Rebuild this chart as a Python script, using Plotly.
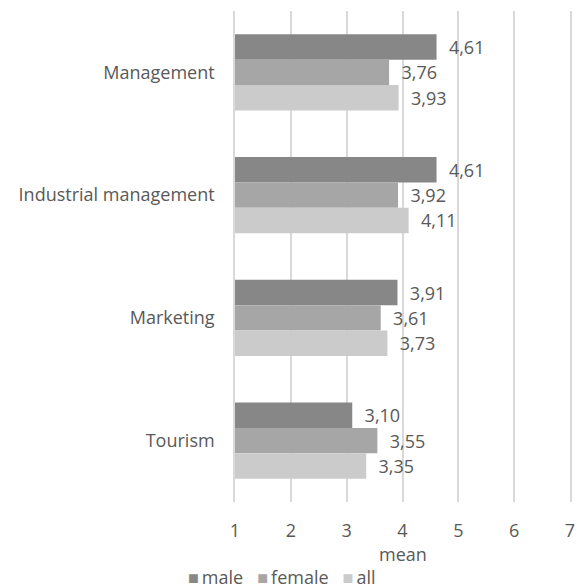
import plotly.graph_objects as go

categories = ["Management", "Industrial management", "Marketing", "Tourism"]
male = [4.61, 4.61, 3.91, 3.10]
female = [3.76, 3.92, 3.61, 3.55]
all_ = [3.93, 4.11, 3.73, 3.35]
x_ticks = [1, 2, 3, 4, 5, 6, 7]

series = [
    ("male", male, "#878787"),
    ("female", female, "#a6a6a6"),
    ("all", all_, "#cbcbcb"),
]

text_color = "#595959"
grid_color = "#d9d9d9"
font_family = "Open Sans, Noto Sans, sans-serif"
fsize = 18

fig = go.Figure()
for name, vals, color in series:
    fig.add_trace(go.Bar(
        y=categories,
        x=[v - 1 for v in vals],
        base=1,
        orientation="h",
        name=name,
        marker=dict(color=color, line=dict(width=0)),
        text=["  " + f"{v:.2f}".replace(".", ",") for v in vals],
        textposition="outside",
        textfont=dict(color=text_color, size=fsize, family=font_family),
        cliponaxis=False,
        showlegend=False,
    ))

# legend drawn as a single line of coloured squares and names
legend_html = "   ".join(
    f"<span style='color:{color}'>■</span>\u2009{name}" for name, _, color in series
)
fig.add_annotation(
    text=legend_html,
    xref="paper", yref="paper",
    x=0.14, y=-0.152,
    xanchor="center", yanchor="middle",
    showarrow=False,
    font=dict(size=fsize, color=text_color, family=font_family),
)

# x-axis title
fig.add_annotation(
    text="mean",
    xref="paper", yref="paper",
    x=0.5, y=-0.106,
    xanchor="center", yanchor="middle",
    showarrow=False,
    font=dict(size=fsize, color=text_color, family=font_family),
)

fig.update_layout(
    width=577,
    height=588,
    margin=dict(l=235, r=7, t=11, b=86, autoexpand=False),
    paper_bgcolor="white",
    plot_bgcolor="white",
    barmode="group",
    bargap=0.38,
    bargroupgap=0,
    font=dict(family=font_family, color=text_color, size=fsize),
    xaxis=dict(
        range=[1, 7],
        tickvals=x_ticks,
        ticktext=[str(t) for t in x_ticks],
        showgrid=True,
        gridcolor=grid_color,
        gridwidth=1.5,
        zeroline=False,
        showline=False,
        ticks="",
        ticklabelstandoff=16,
        tickfont=dict(size=fsize, color=text_color),
        automargin=False,
    ),
    yaxis=dict(
        autorange="reversed",
        showgrid=False,
        zeroline=False,
        showline=True,
        mirror=True,
        linecolor=grid_color,
        linewidth=1.5,
        ticks="",
        ticklabelstandoff=15,
        tickfont=dict(size=fsize, color=text_color),
        automargin=False,
    ),
)

fig.write_html("out.html")
